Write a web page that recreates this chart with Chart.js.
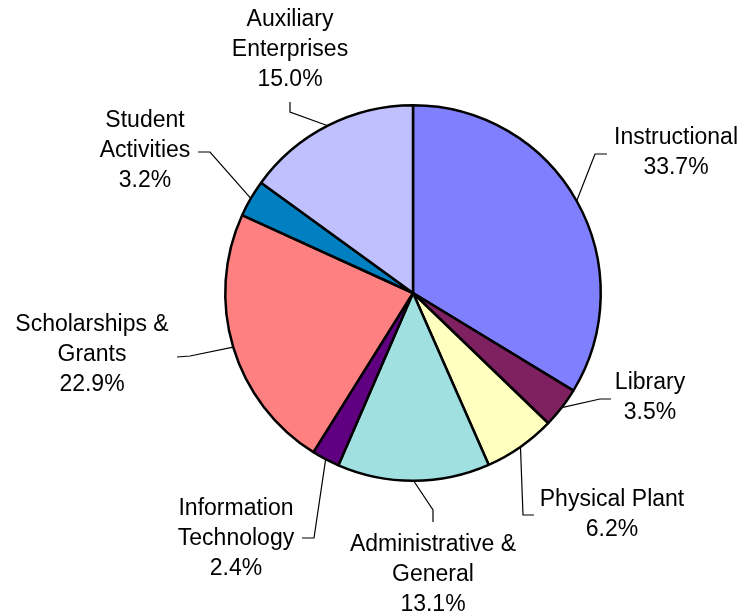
<!DOCTYPE html>
<html>
<head>
<meta charset="utf-8">
<script src="https://cdn.jsdelivr.net/npm/chart.js@4/dist/chart.umd.min.js"></script>
<style>
  html, body { margin: 0; padding: 0; background: #fff; }
  #wrap { width: 744px; height: 616px; }
</style>
</head>
<body>
<div id="wrap"><canvas id="pie" width="744" height="616"></canvas></div>
<script>
var categories = ['Instructional', 'Library', 'Physical Plant', 'Administrative &\nGeneral',
    'Information\nTechnology', 'Scholarships &\nGrants', 'Student\nActivities', 'Auxiliary\nEnterprises'];
var values = [33.7, 3.5, 6.2, 13.1, 2.4, 22.9, 3.2, 15.0];
var colors = ['#8080FF', '#7F2060', '#FFFFC0', '#A0E0E0', '#600080', '#FF8080', '#0080C0', '#C0C0FF'];

// where each label sits, relative to the pie centre (text = first line centre, end = leader end, elbow = bend)
var labelLayout = [
    {tx: 263, ty: -155, ex: 194, ey: -139, bx: 182, by: -139},
    {tx: 237, ty: 90, ex: 198, ey: 106, bx: 187, by: 106},
    {tx: 199, ty: 207, ex: 121, ey: 222, bx: 110, by: 222},
    {tx: 20, ty: 252, ex: 20, ey: 229, bx: 20, by: 217},
    {tx: -177, ty: 216, ex: -111, ey: 245, bx: -99, by: 245},
    {tx: -321, ty: 32, ex: -236, ey: 64, bx: -223, by: 63},
    {tx: -268, ty: -172, ex: -215, ey: -141, bx: -203, by: -141},
    {tx: -123, ty: -273, ex: -123, ey: -191, bx: -123, by: -181}
];

var leaderLabels = {
    id: 'leaderLabels',
    afterDraw: function(chart) {
        var ctx = chart.ctx;
        var meta = chart.getDatasetMeta(0);
        var total = values.reduce(function(a, b) { return a + b; }, 0);
        ctx.save();
        ctx.font = '23px "Liberation Sans", Arial, sans-serif';
        ctx.textAlign = 'center';
        ctx.textBaseline = 'middle';
        meta.data.forEach(function(arc, i) {
            var p = arc.getProps(['x', 'y', 'startAngle', 'endAngle', 'outerRadius'], true);
            var mid = (p.startAngle + p.endAngle) / 2;
            var ax = p.x + p.outerRadius * Math.cos(mid);
            var ay = p.y + p.outerRadius * Math.sin(mid);
            var L = labelLayout[i];
            ctx.strokeStyle = '#000';
            ctx.lineWidth = 1.2;
            ctx.beginPath();
            ctx.moveTo(ax, ay);
            ctx.lineTo(p.x + L.bx, p.y + L.by);
            ctx.lineTo(p.x + L.ex, p.y + L.ey);
            ctx.stroke();
            var lines = categories[i].split('\n');
            lines.push((values[i] / total * 100).toFixed(1) + '%');
            ctx.fillStyle = '#000';
            lines.forEach(function(t, k) {
                ctx.fillText(t, p.x + L.tx, p.y + L.ty + k * 30);
            });
        });
        ctx.restore();
    }
};

new Chart(document.getElementById('pie'), {
    type: 'pie',
    data: {
        labels: categories,
        datasets: [{
            data: values,
            backgroundColor: colors,
            borderColor: '#000000',
            borderWidth: 2.5
        }]
    },
    options: {
        responsive: false,
        animation: false,
        layout: {padding: {left: 224, right: 142, top: 104, bottom: 134}},
        plugins: {
            legend: {display: false},
            tooltip: {enabled: false}
        }
    },
    plugins: [leaderLabels]
});
</script>
</body>
</html>
